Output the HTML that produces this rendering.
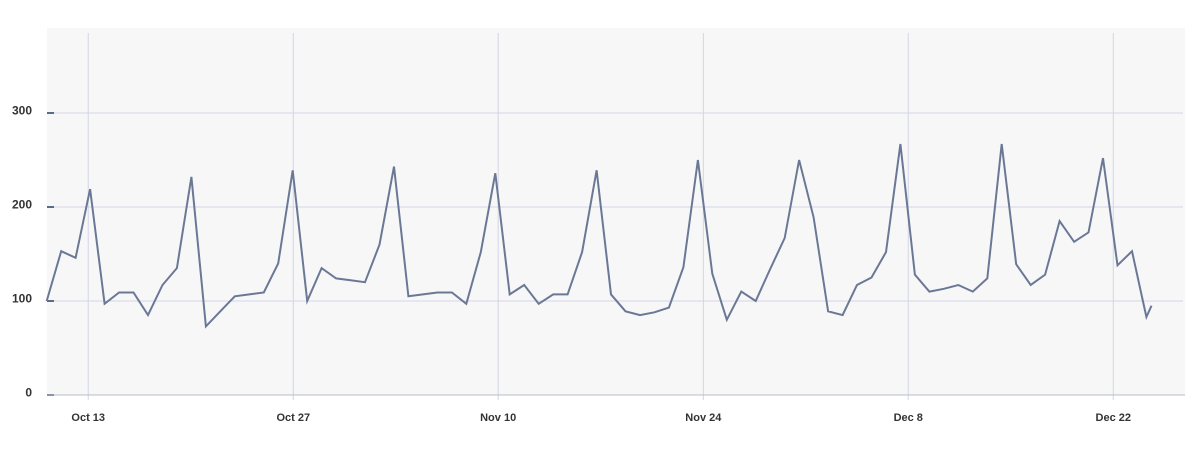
<!DOCTYPE html>
<html><head><meta charset="utf-8"><style>
html,body{margin:0;padding:0;background:#fff;width:1200px;height:474px;overflow:hidden}
svg{display:block;font-family:"Liberation Sans",sans-serif}
</style></head><body>
<svg id="chart" width="1200" height="474" xmlns="http://www.w3.org/2000/svg">
<rect x="47" y="28" width="1138" height="367" fill="#f7f7f8"/>
<g id="grid"></g><g id="axes"></g><g id="series"></g>
</svg>
<script>
const values=[100,153,146,219,97,109,109,85,117,135,232,73,89,105,107,109,140,239,100,135,124,122,120,160,243,105,107,109,109,97,152,236,107,117,97,107,107,152,239,107,89,85,88,93,136,250,129,80,110,100,134,167,250,189,89,85,117,125,152,267,128,110,113,117,110,124,267,139,117,128,185,163,173,252,138,153,83,95];
const dayIndex=values.map((v,i)=>i===values.length-1?76.35:i);
const tickLabels=["Oct 13","Oct 27","Nov 10","Nov 24","Dec 8","Dec 22"];
const tickDays=[2.87,17.04,31.2,45.38,59.54,73.71];
const yTicks=[0,100,200,300];

const NS="http://www.w3.org/2000/svg";
const X=d=>46.7+d*14.47;
const Y=v=>395-v*0.94;
function mk(tag,attrs,parent){const e=document.createElementNS(NS,tag);for(const k in attrs)e.setAttribute(k,attrs[k]);parent.appendChild(e);return e;}
const grid=document.getElementById('grid'),axes=document.getElementById('axes'),series=document.getElementById('series');

yTicks.forEach(t=>{
  if(t>0){const g=mk('line',{x1:47,x2:1183,y1:Y(t),y2:Y(t),stroke:'#d3d5e6','stroke-width':1},grid);
  
  }
  const tk=mk('line',{x1:47,x2:54,y1:Y(t),y2:Y(t),stroke:'#5d6a85','stroke-width':2},axes);
  
  
  const lb=mk('text',{x:32,y:Y(t)+1.5,'text-anchor':'end','font-size':12,'font-weight':'bold',fill:'#333'},axes);
  lb.textContent=t;
  
  
});
tickDays.forEach((d,i)=>{
  const g=mk('line',{x1:X(d),x2:X(d),y1:33,y2:400,stroke:'#d3d5e6','stroke-width':1},grid);
  
  
  const lb=mk('text',{x:X(d),y:421,'text-anchor':'middle','font-size':11,'font-weight':'bold',fill:'#333'},axes);
  lb.textContent=tickLabels[i];
  
  
});
const ax=mk('line',{x1:47,x2:1185,y1:395,y2:395,stroke:'#b8bccb','stroke-width':1},axes);


const pts=values.map((v,i)=>X(dayIndex[i]).toFixed(1)+','+Y(v).toFixed(1)).join(' ');
const pl=mk('polyline',{points:pts,fill:'none',stroke:'#6b7895','stroke-width':2,'stroke-linejoin':'miter'},series);


</script>
</body></html>
